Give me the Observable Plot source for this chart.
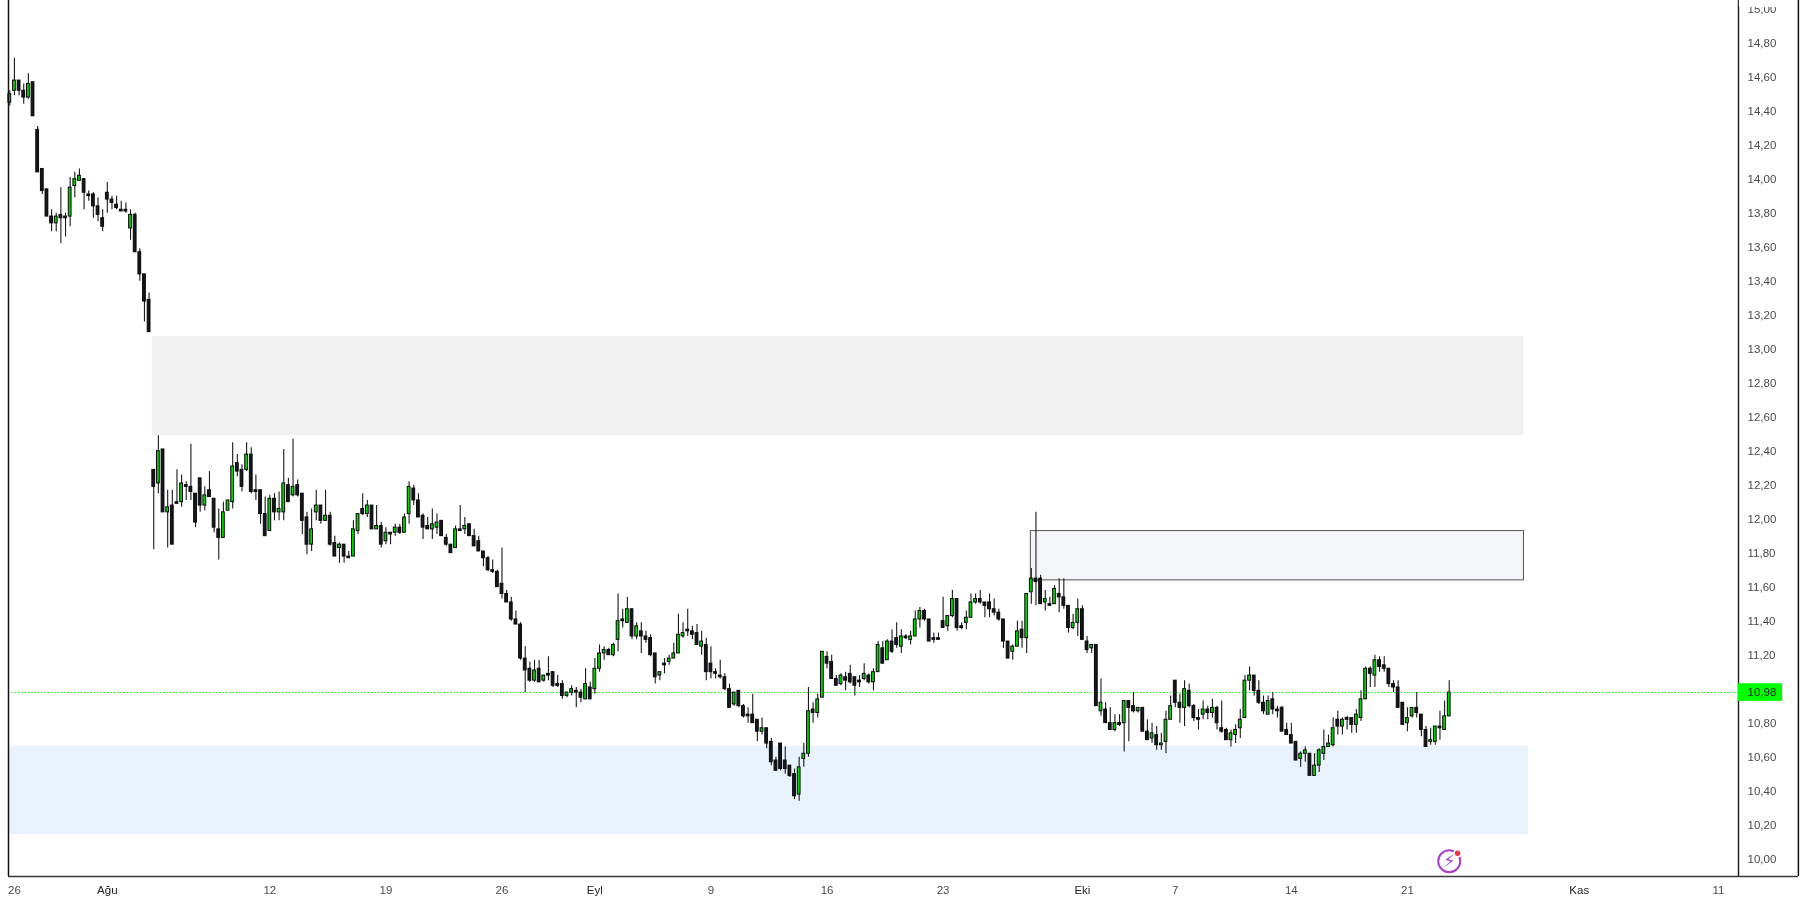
<!DOCTYPE html>
<html>
<head>
<meta charset="utf-8">
<script src="https://cdn.jsdelivr.net/npm/d3@7"></script>
<script src="https://cdn.jsdelivr.net/npm/@observablehq/plot@0.6"></script>
<style>
html,body{margin:0;padding:0;background:#fff;overflow:hidden}
svg{display:block;filter:blur(0.5px)}
</style>
</head>
<body>
<div id="chart"></div>
<script>
const opens = [
14.45,14.52,14.58,14.52,14.48,14.57,14.29,14.06,13.94,13.78,
13.74,13.79,13.78,13.78,13.96,13.99,14.00,13.91,13.91,13.84,
13.77,13.92,13.88,13.85,13.82,13.82,13.71,13.79,13.57,13.44,
13.29,12.29,12.21,12.41,12.04,12.08,12.10,12.10,12.20,12.19,
12.15,12.24,12.08,12.17,12.12,11.94,11.89,12.05,12.10,12.33,
12.29,12.29,12.38,12.17,12.17,12.03,11.93,12.12,12.04,12.04,
12.20,12.14,12.20,12.15,12.01,11.85,12.04,12.08,11.99,12.02,
11.86,11.83,11.85,11.78,11.78,11.93,12.06,12.03,12.08,11.94,
11.96,11.87,11.92,11.92,11.95,11.92,12.03,12.18,12.11,12.02,
11.96,11.94,11.95,11.99,11.89,11.85,11.83,11.94,11.94,11.97,
11.90,11.87,11.81,11.77,11.70,11.69,11.62,11.56,11.51,11.41,
11.38,11.18,11.12,11.05,11.12,11.05,11.09,11.10,11.03,11.03,
10.96,10.98,10.99,10.98,10.94,11.01,11.00,11.12,11.21,11.23,
11.20,11.29,11.41,11.39,11.47,11.31,11.34,11.31,11.30,11.21,
11.08,11.15,11.16,11.18,11.21,11.31,11.35,11.34,11.33,11.25,
11.26,11.15,11.10,11.08,11.07,11.00,10.91,10.99,10.90,10.85,
10.85,10.82,10.75,10.77,10.69,10.58,10.68,10.58,10.55,10.50,
10.38,10.59,10.62,10.88,10.86,10.95,11.19,11.16,11.06,11.03,
11.07,11.09,11.07,11.05,11.06,11.08,11.04,11.10,11.24,11.17,
11.28,11.30,11.25,11.31,11.29,11.31,11.41,11.46,11.41,11.30,
11.30,11.40,11.37,11.43,11.53,11.37,11.39,11.42,11.51,11.53,
11.51,11.51,11.47,11.45,11.41,11.28,11.22,11.25,11.35,11.30,
11.57,11.65,11.65,11.51,11.50,11.50,11.56,11.54,11.49,11.36,
11.39,11.47,11.28,11.24,11.26,10.87,10.88,10.80,10.76,10.80,
10.80,10.93,10.90,10.87,10.89,10.75,10.71,10.73,10.67,10.69,
10.82,11.05,10.92,10.89,10.99,10.90,10.83,10.85,10.88,10.86,
10.89,10.77,10.76,10.70,10.73,10.77,10.83,11.05,11.08,10.99,
10.92,10.85,10.94,10.88,10.89,10.76,10.73,10.69,10.59,10.62,
10.62,10.49,10.55,10.62,10.66,10.67,10.82,10.78,10.83,10.83,
10.79,10.83,10.94,11.12,11.08,11.17,11.14,11.12,11.03,11.01,
10.92,10.80,10.84,10.89,10.85,10.76,10.69,10.69,10.78,10.76,10.84];
const highs = [
14.52,14.71,14.58,14.56,14.62,14.57,14.31,14.06,13.94,13.82,
13.80,13.95,13.80,14.01,14.04,14.06,14.00,13.93,13.92,13.89,
13.82,13.98,13.90,13.90,13.87,13.86,13.82,13.80,13.59,13.44,
13.33,12.29,12.49,12.41,12.17,12.17,12.29,12.26,12.22,12.44,
12.15,12.24,12.19,12.28,12.12,12.06,12.10,12.11,12.45,12.38,
12.32,12.45,12.42,12.26,12.17,12.13,12.14,12.15,12.16,12.41,
12.24,12.47,12.23,12.15,12.04,12.06,12.17,12.08,12.17,12.04,
11.90,11.86,11.85,11.81,11.99,12.03,12.15,12.11,12.08,12.08,
11.98,11.95,11.92,11.97,11.97,12.03,12.22,12.20,12.15,12.03,
12.01,12.06,12.03,11.99,11.91,11.85,11.96,12.08,12.01,11.97,
11.94,11.90,11.81,11.78,11.76,11.70,11.83,11.58,11.54,11.46,
11.39,11.25,11.16,11.17,11.17,11.08,11.19,11.10,11.08,11.05,
10.98,11.02,11.01,11.00,11.12,11.04,11.18,11.26,11.25,11.24,
11.27,11.56,11.47,11.54,11.47,11.39,11.39,11.34,11.32,11.21,
11.10,11.18,11.20,11.27,11.44,11.39,11.47,11.37,11.38,11.34,
11.30,11.25,11.12,11.17,11.09,11.03,10.98,10.99,10.91,10.89,
10.97,10.82,10.83,10.77,10.71,10.60,10.68,10.66,10.55,10.53,
10.60,10.68,11.01,10.92,10.97,11.22,11.22,11.20,11.08,11.09,
11.10,11.14,11.07,11.08,11.15,11.09,11.12,11.28,11.28,11.29,
11.35,11.39,11.35,11.32,11.34,11.46,11.48,11.47,11.41,11.33,
11.33,11.54,11.43,11.58,11.53,11.39,11.46,11.56,11.56,11.58,
11.51,11.56,11.53,11.47,11.41,11.28,11.26,11.40,11.40,11.56,
11.71,12.04,11.67,11.58,11.54,11.61,11.65,11.65,11.49,11.44,
11.53,11.49,11.31,11.26,11.26,11.06,10.92,10.89,10.85,10.85,
10.93,10.93,10.98,10.89,10.89,10.82,10.80,10.78,10.74,10.87,
10.96,11.05,10.97,11.05,11.03,10.91,10.88,10.93,10.90,10.94,
10.90,10.93,10.77,10.76,10.79,10.88,11.08,11.13,11.08,11.05,
10.96,10.96,10.98,10.90,10.90,10.80,10.80,10.69,10.63,10.66,
10.62,10.62,10.65,10.76,10.73,10.83,10.87,10.83,10.84,10.83,
10.88,10.99,11.13,11.13,11.20,11.19,11.19,11.12,11.05,11.05,
10.92,10.89,10.89,10.98,10.85,10.78,10.77,10.78,10.87,10.93,11.05];
const lows = [
14.43,14.49,14.49,14.44,14.47,14.37,14.04,13.91,13.78,13.69,
13.69,13.62,13.66,13.72,13.89,13.99,13.82,13.87,13.77,13.75,
13.69,13.80,13.82,13.82,13.81,13.80,13.64,13.57,13.40,13.16,
13.10,11.82,12.15,12.04,11.83,11.85,12.09,12.07,12.11,12.11,
11.95,12.04,12.05,12.13,11.92,11.76,11.89,12.05,12.06,12.25,
12.16,12.28,12.15,12.11,11.97,11.90,11.93,11.99,11.99,11.99,
12.10,12.13,12.13,11.91,11.79,11.81,11.99,11.97,11.99,11.84,
11.78,11.74,11.74,11.77,11.78,11.91,12.02,12.01,11.94,11.94,
11.83,11.85,11.85,11.90,11.91,11.92,11.97,12.08,12.01,11.88,
11.94,11.88,11.91,11.90,11.84,11.80,11.83,11.93,11.91,11.90,
11.84,11.81,11.72,11.69,11.68,11.60,11.53,11.51,11.40,11.38,
11.17,10.98,11.04,11.04,11.04,11.04,11.05,11.01,11.01,10.94,
10.95,10.96,10.89,10.92,10.94,10.94,10.97,11.10,11.17,11.20,
11.19,11.22,11.36,11.39,11.29,11.29,11.21,11.27,11.19,11.03,
11.05,11.09,11.14,11.18,11.21,11.30,11.31,11.29,11.26,11.20,
11.05,11.06,11.06,11.06,10.99,10.89,10.90,10.89,10.83,10.80,
10.80,10.69,10.73,10.65,10.55,10.52,10.52,10.50,10.48,10.35,
10.34,10.54,10.60,10.80,10.83,10.95,11.12,11.06,11.02,11.02,
10.99,11.03,10.96,11.01,11.05,11.03,10.99,11.10,11.15,11.17,
11.21,11.24,11.21,11.29,11.26,11.31,11.36,11.40,11.28,11.27,
11.29,11.36,11.34,11.42,11.34,11.35,11.35,11.42,11.50,11.50,
11.42,11.42,11.43,11.40,11.24,11.18,11.17,11.25,11.24,11.21,
11.50,11.49,11.50,11.46,11.49,11.50,11.45,11.47,11.33,11.35,
11.31,11.29,11.21,11.21,10.90,10.84,10.80,10.76,10.75,10.78,
10.63,10.69,10.86,10.86,10.75,10.70,10.68,10.64,10.64,10.62,
10.82,10.89,10.80,10.78,10.89,10.81,10.76,10.82,10.82,10.83,
10.76,10.74,10.70,10.66,10.68,10.71,10.83,10.99,10.96,10.91,
10.85,10.85,10.85,10.83,10.75,10.73,10.68,10.58,10.54,10.57,
10.49,10.49,10.51,10.58,10.66,10.66,10.73,10.73,10.76,10.74,
10.74,10.81,10.94,11.01,11.01,11.10,11.10,11.01,10.98,10.89,
10.79,10.75,10.83,10.83,10.72,10.66,10.67,10.67,10.70,10.76,10.84];
const closes = [
14.50,14.58,14.52,14.48,14.56,14.37,14.04,13.93,13.78,13.74,
13.78,13.77,13.77,13.95,14.00,14.02,13.92,13.90,13.84,13.79,
13.72,13.88,13.86,13.83,13.81,13.81,13.79,13.57,13.44,13.28,
13.10,12.19,12.40,12.04,12.07,11.85,12.09,12.21,12.19,12.16,
11.98,12.08,12.14,12.13,11.95,11.89,12.04,12.11,12.31,12.28,
12.19,12.38,12.16,12.16,12.03,11.90,12.12,12.04,12.06,12.21,
12.10,12.19,12.14,11.99,11.85,11.94,12.08,11.99,12.02,11.85,
11.78,11.85,11.78,11.77,11.94,12.03,12.03,12.08,11.94,11.96,
11.85,11.92,11.91,11.95,11.92,12.01,12.19,12.11,12.01,11.95,
11.94,11.97,11.98,11.90,11.85,11.80,11.94,11.93,11.96,11.90,
11.84,11.81,11.77,11.70,11.69,11.60,11.56,11.51,11.41,11.38,
11.18,11.11,11.05,11.11,11.04,11.08,11.08,11.02,11.02,10.96,
10.98,11.00,10.98,10.95,11.03,10.94,11.12,11.21,11.23,11.20,
11.26,11.40,11.40,11.47,11.31,11.37,11.31,11.29,11.20,11.07,
11.10,11.14,11.18,11.21,11.32,11.33,11.34,11.32,11.26,11.28,
11.10,11.10,11.09,11.07,11.00,10.89,10.98,10.90,10.84,10.84,
10.80,10.75,10.77,10.68,10.57,10.52,10.53,10.53,10.49,10.37,
10.54,10.62,10.87,10.86,10.94,11.22,11.15,11.06,11.02,11.08,
11.05,11.04,11.02,11.04,11.09,11.04,11.10,11.26,11.15,11.28,
11.22,11.26,11.31,11.30,11.31,11.41,11.46,11.41,11.28,11.29,
11.29,11.36,11.43,11.53,11.36,11.36,11.42,11.51,11.53,11.51,
11.49,11.47,11.45,11.41,11.28,11.18,11.25,11.34,11.30,11.56,
11.65,11.63,11.50,11.53,11.49,11.59,11.54,11.49,11.36,11.39,
11.47,11.29,11.23,11.26,10.90,10.92,10.80,10.76,10.80,10.79,
10.93,10.89,10.87,10.89,10.75,10.70,10.74,10.67,10.68,10.82,
10.90,10.92,10.89,11.00,10.90,10.83,10.82,10.88,10.86,10.89,
10.80,10.75,10.70,10.74,10.76,10.82,11.05,11.08,10.99,10.92,
10.87,10.93,10.88,10.87,10.75,10.73,10.68,10.58,10.62,10.64,
10.49,10.55,10.64,10.66,10.68,10.77,10.78,10.82,10.82,10.79,
10.85,10.94,11.12,11.09,11.17,11.13,11.12,11.03,11.01,10.89,
10.79,10.83,10.89,10.86,10.76,10.66,10.70,10.78,10.77,10.84,10.98];

const dayTickBars = [1,56,81,106,151,176,201,251,276,301,368];
const dayTickLabels = ["26","12","19","26","9","16","23","7","14","21","11"];
const monthTickBars = [21,126,231,338];
const monthTickLabels = ["Ağu","Eyl","Eki","Kas"];
const priceTicks = d3.range(0,26).map(k => (1000 + k*20)/100);
const lastPrice = 10.98;

const barDomain = [-0.28, 372.3];
const frameBar = 385.2;
const priceLabelEndBar = 381.8;
const priceDomain = [9.898, 15.051];

const zoneBars = [30.7, 326.1];
const zonePrices = [12.49, 13.075];
const boxBars = [219.9, 326.1];
const boxPrices = [11.64, 11.93];
const supportBars = [-0.28, 327.1];
const supportPrices = [10.143, 10.665];
const iconBar = 310, iconPrice = 9.988, badgeBar = 311.8, badgePrice = 10.035;

const candles = opens.map((o,i)=>({i,o,h:highs[i],l:lows[i],c:closes[i]}));
const up = candles.filter(d=>d.c>=d.o);
const down = candles.filter(d=>d.c<d.o);
const comma = v => v.toFixed(2).replace(".",",");
const bodyW = 0.3;
const body = (data,fill)=>Plot.rect(data,{
  x1:d=>d.i-bodyW,x2:d=>d.i+bodyW,
  y1:d=>Math.min(d.o,d.c),y2:d=>Math.max(d.o,d.c),
  fill,stroke:"#0a0a0a",strokeWidth:1});
const lineColor = "#3a3a3a";
const textColor = "#4a4a4a";

const chart = Plot.plot({
  width:1805,height:901,
  marginLeft:8,marginRight:67,marginTop:0,marginBottom:25,
  style:{fontFamily:"'Liberation Sans',Arial,sans-serif",fontSize:"11.5px",background:"#fff"},
  x:{domain:barDomain,axis:null},
  y:{domain:priceDomain,axis:null},
  marks:[
    Plot.rect([0],{x1:zoneBars[0],x2:zoneBars[1],y1:zonePrices[0],y2:zonePrices[1],fill:"#f0f0f0"}),
    Plot.rect([0],{x1:supportBars[0],x2:supportBars[1],y1:supportPrices[0],y2:supportPrices[1],fill:"#e8f2fc"}),
    Plot.rect([0],{x1:boxBars[0],x2:boxBars[1],y1:boxPrices[0],y2:boxPrices[1],fill:"#f4f5f8",stroke:"#555",strokeWidth:1}),
    Plot.ruleY([lastPrice],{x1:barDomain[0],x2:barDomain[1],stroke:"#00ff00",strokeWidth:1,strokeDasharray:"1.5,1.8"}),
    Plot.ruleX(candles,{x:"i",y1:"l",y2:"h",stroke:"#1a1a1a",strokeWidth:1.1}),
    body(down,"#14171f"),
    body(up,"#00d400"),
    Plot.ruleX([barDomain[0]],{stroke:"#111",strokeWidth:1.5}),
    Plot.ruleX([barDomain[1]],{stroke:"#222",strokeWidth:1.5}),
    Plot.ruleX([frameBar],{stroke:"#111",strokeWidth:1.5}),
    Plot.ruleY([priceDomain[0]],{x1:barDomain[0],x2:frameBar,stroke:lineColor,strokeWidth:1.5}),
    Plot.axisY(priceTicks,{anchor:"right",tickSize:0,tickPadding:9,tickFormat:comma,label:null,color:textColor,fontSize:11.5}),
    Plot.rect([0],{x1:barDomain[1]+0.2,x2:frameBar-0.2,y1:15.01,y2:priceDomain[1],fill:"#fff"}),
    Plot.rect([0],{x1:barDomain[1],x2:priceLabelEndBar,y1:lastPrice-0.052,y2:lastPrice+0.052,fill:"#00ff00"}),
    Plot.text([lastPrice],{x:barDomain[1],y:d=>d,text:comma,dx:9,textAnchor:"start",fill:"#222",fontSize:11.5}),
    Plot.axisX(dayTickBars,{anchor:"bottom",tickSize:0,tickPadding:9,tickFormat:(d,i)=>dayTickLabels[i],label:null,color:textColor,fontSize:11.5}),
    Plot.axisX(monthTickBars,{anchor:"bottom",tickSize:0,tickPadding:9,tickFormat:(d,i)=>monthTickLabels[i],label:null,color:"#222",fontSize:11.5}),
    Plot.dot([0],{x:iconBar,y:iconPrice,r:11,stroke:"#a83fcb",strokeWidth:2,fill:"#fff"}),
    Plot.text(["\u26A1\uFE0E"],{x:iconBar,y:iconPrice,text:d=>d,fill:"#a83fcb",fontSize:18,fontFamily:"DejaVu Sans"}),
    Plot.dot([0],{x:badgeBar,y:badgePrice,r:3.5,fill:"#f23645",stroke:"#fff",strokeWidth:1.5})
  ]
});
document.getElementById("chart").appendChild(chart);
</script>
</body>
</html>
